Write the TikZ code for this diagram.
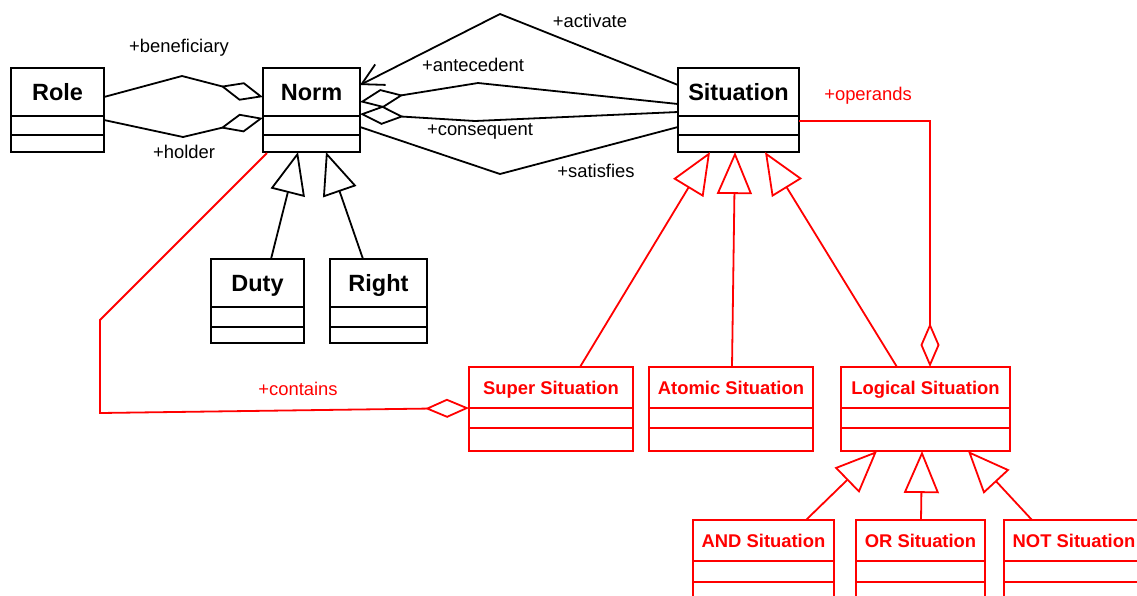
\documentclass[tikz,border=0pt]{standalone}
\usepackage{fontspec}
\setmainfont{Liberation Sans}
\usetikzlibrary{arrows.meta,calc}
\definecolor{umlred}{RGB}{255,0,0}
\tikzset{
  cbox/.style={draw, line width=1.8pt, rectangle, inner sep=0pt, outer sep=0pt, anchor=north west, minimum height=84pt},
  bbox/.style={cbox, draw=black},
  rbox/.style={cbox, draw=umlred},
  bline/.style={draw=black, line width=1.8pt},
  rline/.style={draw=umlred, line width=1.8pt},
  btitle/.style={anchor=base, inner sep=0pt, font=\fontsize{23.5}{28}\selectfont\bfseries, text=black},
  rtitle/.style={anchor=base, inner sep=0pt, font=\fontsize{18.4}{22}\selectfont\bfseries, text=umlred},
  lbl/.style={anchor=base, inner sep=0pt, font=\fontsize{18.4}{22}\selectfont},
  blbl/.style={lbl, text=black},
  rlbl/.style={lbl, text=umlred},
  gen/.style={-{Triangle[open,length=42pt,width=35pt]}},
  agg/.style={-{Diamond[open,length=44pt,width=19pt]}},
  nav/.style={-{Straight Barb[length=21pt,width=23pt]}},
}
% #1 name, #2 b/r, #3 x, #4 y, #5 width, #6 div1, #7 div2, #8 text, #9 baseline offset
\newcommand{\umlclass}[9]{%
  \node[#2box, minimum width=#5pt] (#1) at (#3,#4) {};
  \draw[#2line] ($(#1.north west)+(0,#6)$) -- ($(#1.north east)+(0,#6)$);
  \draw[#2line] ($(#1.north west)+(0,#7)$) -- ($(#1.north east)+(0,#7)$);
  \node[#2title] (#1-title) at ($(#1.north)+(0,#9)$) {#8};
}
\begin{document}
\begin{tikzpicture}[x=1pt,y=-1pt]
\path[use as bounding box] (0,0) rectangle (1137,595);
\clip (0,0) rectangle (1137,595);
\fill[white] (0,0) rectangle (1137,595);

% classes
\umlclass{role}{b}{11}{68}{93}{48}{67}{Role}{32}
\umlclass{norm}{b}{263}{68}{97}{48}{67}{Norm}{32}
\umlclass{situation}{b}{678}{68}{121}{48}{67}{Situation}{32}
\umlclass{dutyc}{b}{211}{259}{93}{48}{68}{Duty}{32}
\umlclass{rightc}{b}{330}{259}{97}{48}{68}{Right}{32}
\umlclass{superc}{r}{469}{367}{164}{41}{61}{Super Situation}{27}
\umlclass{atomicc}{r}{649}{367}{164}{41}{61}{Atomic Situation}{27}
\umlclass{logicalc}{r}{841}{367}{169}{41}{61}{Logical Situation}{27}
\umlclass{andc}{r}{693}{520}{141}{41}{62}{AND Situation}{27}
\umlclass{orc}{r}{856}{520}{129}{41}{62}{OR Situation}{27}
\umlclass{notc}{r}{1004}{520}{140}{41}{62}{NOT Situation}{27}

% bend points
\coordinate (benef) at (182,76);
\coordinate (hold) at (183,137);
\coordinate (act) at (500,14);
\coordinate (ante) at (478,83);
\coordinate (cons) at (475,121);
\coordinate (sat) at (500,174);
\coordinate (cont1) at (100,320);
\coordinate (cont2) at (100,413);

% associations (black)
\draw[bline, agg] ($(role.north east)+(0,29)$) -- (benef) -- ($(norm.north west)+(0,29)$);
\draw[bline, agg] ($(role.north east)+(0,52)$) -- (hold) -- ($(norm.north west)+(0,50)$);
\draw[bline, nav] ($(situation.north west)+(0,17)$) -- (act) -- ($(norm.north east)+(0,17)$);
\draw[bline, agg] ($(situation.north west)+(0,36)$) -- (ante) -- ($(norm.north east)+(0,34)$);
\draw[bline, agg] ($(situation.north west)+(0,44)$) -- (cons) -- ($(norm.north east)+(0,46)$);
\draw[bline] ($(situation.north west)+(0,59)$) -- (sat) -- ($(norm.north east)+(0,59)$);

% generalizations (black)
\draw[bline, gen] ($(dutyc.north west)+(60,0)$) -- ($(norm.south west)+(35,0)$);
\draw[bline, gen] ($(rightc.north west)+(33,0)$) -- ($(norm.south west)+(63,0)$);

% red connectors
\draw[rline, agg] ($(norm.south west)+(4,1)$) -- (cont1) -- (cont2) -- ($(superc.north west)+(0,41)$);
\draw[rline, agg] ($(situation.north east)+(0,53)$) -| ($(logicalc.north west)+(89,0)$);
\draw[rline, gen] ($(superc.north west)+(111,0)$) -- ($(situation.south west)+(32,0)$);
\draw[rline, gen] ($(atomicc.north west)+(83,0)$) -- ($(situation.south west)+(57,0)$);
\draw[rline, gen] ($(logicalc.north west)+(56,0)$) -- ($(situation.south west)+(87,0)$);
\draw[rline, gen] ($(andc.north west)+(113,0)$) -- ($(logicalc.south west)+(36,0)$);
\draw[rline, gen] ($(orc.north west)+(65,0)$) -- ($(logicalc.south west)+(81,0)$);
\draw[rline, gen] ($(notc.north west)+(28,0)$) -- ($(logicalc.south west)+(127,0)$);

% labels
\node[blbl] (l-benef) at (179,52) {+beneficiary};
\node[blbl] (l-hold) at (184,158) {+holder};
\node[blbl] (l-act) at (590,27) {+activate};
\node[blbl] (l-ante) at (473,71) {+antecedent};
\node[blbl] (l-cons) at (480,135) {+consequent};
\node[blbl] (l-sat) at (596,177) {+satisfies};
\node[rlbl] (l-oper) at (868,100) {+operands};
\node[rlbl] (l-cont) at (298,395) {+contains};
\end{tikzpicture}
\end{document}
